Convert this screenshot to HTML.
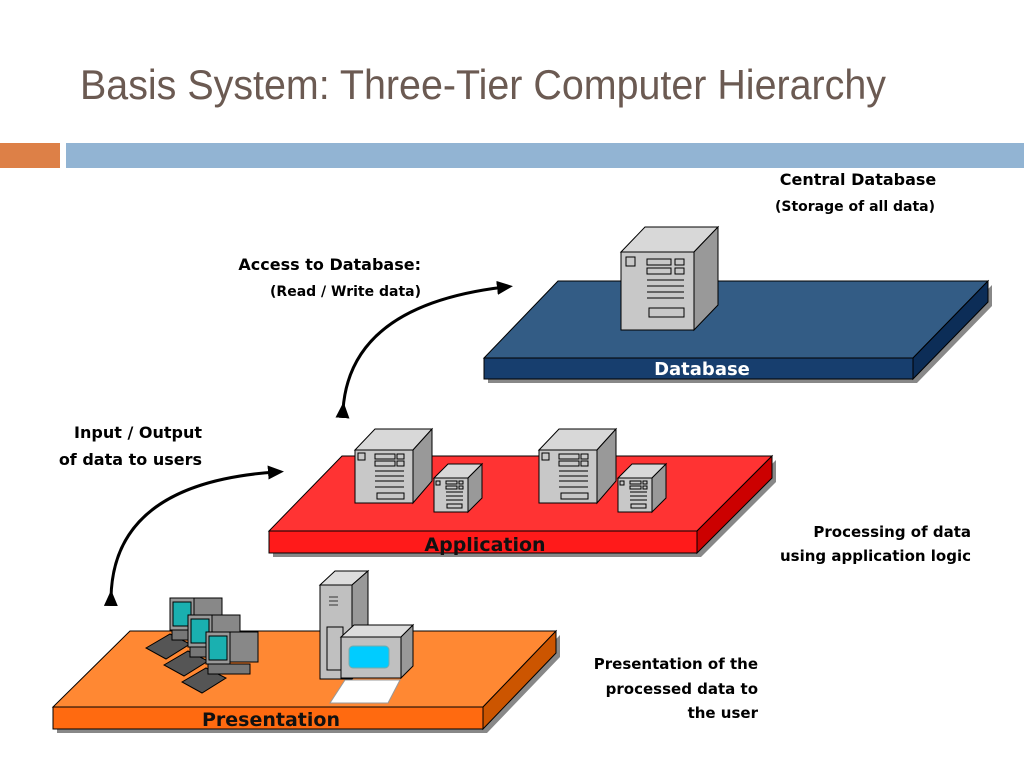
<!DOCTYPE html>
<html><head><meta charset="utf-8"><style>
html,body{margin:0;padding:0;background:#fff;}
svg{display:block;}
text{font-family:"DejaVu Sans","Liberation Sans",sans-serif;}
</style></head><body>
<svg width="1024" height="768" viewBox="0 0 1024 768" xmlns="http://www.w3.org/2000/svg">
<text x="80" y="99" font-size="42" fill="#6b5a52" style="font-family:'Liberation Sans',sans-serif" textLength="806" lengthAdjust="spacingAndGlyphs">Basis System: Three-Tier Computer Hierarchy</text>
<rect x="0" y="143" width="60" height="25" fill="#dd8047"/>
<rect x="66" y="143" width="958" height="25" fill="#92b4d3"/>

<defs>
<marker id="ah" markerWidth="16" markerHeight="14" refX="8" refY="7" orient="auto" markerUnits="userSpaceOnUse"><path d="M0,0 L16,7 L0,14 z" fill="#000"/></marker>
</defs>

<g stroke="#000" stroke-width="1">
<polygon points="488,362 917,362 992,285 992,306 917,383 488,383" fill="#888" stroke="none"/>
<polygon points="558,281 988,281 913,358 484,358" fill="#335c85"/>
<polygon points="484,358 913,358 913,379 484,379" fill="#173e6e"/>
<polygon points="913,358 988,281 988,302 913,379" fill="#0c2d57"/>
</g>
<text x="702" y="375" font-size="18" font-weight="bold" fill="#fff" text-anchor="middle">Database</text>

<g stroke="#000" stroke-width="1">
<polygon points="621,252 645,227 718,227 694,252" fill="#d8d8d8"/>
<polygon points="694,252 718,227 718,305 694,330" fill="#999"/>
<rect x="621" y="252" width="73" height="78" fill="#c8c8c8"/>
<rect x="626" y="257" width="9" height="9" fill="#c8c8c8"/>
<rect x="647" y="259" width="24" height="6" fill="#c8c8c8"/><rect x="675" y="259" width="9" height="6" fill="#c8c8c8"/>
<rect x="647" y="268" width="24" height="6" fill="#c8c8c8"/><rect x="675" y="268" width="9" height="6" fill="#c8c8c8"/>
<path d="M647 280H684M647 286H684M647 292H684M647 298H684"/>
<rect x="649" y="308" width="35" height="9" fill="#c8c8c8"/>
</g>

<g stroke="#000" stroke-width="1">
<polygon points="273,535 701,535 776,460 776,482 701,557 273,557" fill="#888" stroke="none"/>
<polygon points="342,456 772,456 697,531 269,531" fill="#ff3333"/>
<polygon points="269,531 697,531 697,553 269,553" fill="#ff1a1a"/>
<polygon points="697,531 772,456 772,478 697,553" fill="#cc0000"/>
</g>
<text x="485" y="551" font-size="19" font-weight="bold" fill="#111" text-anchor="middle">Application</text>

<g id="pair">
<g stroke="#000" stroke-width="1">
<polygon points="355,450 375,429 432,429 413,450" fill="#d8d8d8"/>
<polygon points="413,450 432,429 432,481 413,503" fill="#999"/>
<rect x="355" y="450" width="58" height="53" fill="#c8c8c8"/>
<rect x="358" y="453" width="7" height="7" fill="#c8c8c8"/>
<rect x="375" y="454" width="20" height="5" fill="#c8c8c8"/><rect x="397" y="454" width="7" height="5" fill="#c8c8c8"/>
<rect x="375" y="461" width="20" height="5" fill="#c8c8c8"/><rect x="397" y="461" width="7" height="5" fill="#c8c8c8"/>
<path d="M375 471H404M375 476H404M375 481H404M375 487H404"/>
<rect x="377" y="493" width="27" height="6" fill="#c8c8c8"/>
<polygon points="434,478 448,464 482,464 468,478" fill="#d8d8d8"/>
<polygon points="468,478 482,464 482,498 468,512" fill="#999"/>
<rect x="434" y="478" width="34" height="34" fill="#c8c8c8"/>
<rect x="436" y="481" width="4" height="4" fill="#c8c8c8"/>
<rect x="446" y="481" width="11" height="3" fill="#c8c8c8"/><rect x="459" y="481" width="4" height="3" fill="#c8c8c8"/>
<rect x="446" y="486" width="11" height="3" fill="#c8c8c8"/><rect x="459" y="486" width="4" height="3" fill="#c8c8c8"/>
<path d="M446 492H463M446 496H463M446 500H463"/>
<rect x="447" y="504" width="15" height="4" fill="#c8c8c8"/>
</g>
</g>
<use href="#pair" transform="translate(184,0)"/>

<g stroke="#000" stroke-width="1">
<polygon points="57,711 487,711 560,635 560,657 487,733 57,733" fill="#888" stroke="none"/>
<polygon points="130,631 556,631 483,707 53,707" fill="#ff8833"/>
<polygon points="53,707 483,707 483,729 53,729" fill="#ff6a10"/>
<polygon points="483,707 556,631 556,653 483,729" fill="#cc5500"/>
</g>
<text x="271" y="726" font-size="19" font-weight="bold" fill="#111" text-anchor="middle">Presentation</text>

<g stroke="#000" stroke-width="1">
<polygon points="320,585 335,571 368,571 352,585" fill="#ddd"/>
<polygon points="352,585 368,571 368,665 352,679" fill="#999"/>
<rect x="320" y="585" width="32" height="94" fill="#c0c0c0"/>
<path d="M329 597H338M329 601H338M329 605H338" stroke="#333"/>
<rect x="327" y="627" width="16" height="43" fill="#c0c0c0"/>
<polygon points="341,637 354,625 413,625 401,637" fill="#ddd"/>
<polygon points="401,637 413,625 413,666 401,678" fill="#999"/>
<rect x="341" y="637" width="60" height="41" fill="#c0c0c0"/>
<rect x="349" y="646" width="40" height="22" rx="4" fill="#00ccff" stroke="#7aa"/>
<polygon points="330,703 388,703 400,680 345,680" fill="#fff" stroke="#999"/>
</g>

<g stroke="#000" stroke-width="1" id="ws">
<polygon points="146,648 170,634 190,644 166,659" fill="#555"/>
<polygon points="194,598 222,598 222,628 194,628" fill="#888"/>
<rect x="170" y="598" width="24" height="32" fill="#999"/>
<rect x="173" y="602" width="18" height="24" fill="#1ab0b0"/>
<rect x="172" y="630" width="42" height="10" fill="#777"/>
</g>
<use href="#ws" transform="translate(18,17)"/>
<use href="#ws" transform="translate(36,34)"/>

<path d="M343 410 Q350 305 505 287" fill="none" stroke="#000" stroke-width="3" marker-end="url(#ah)" marker-start="url(#ah)"/>
<path d="M111 598 Q113 483 276 472" fill="none" stroke="#000" stroke-width="3" marker-end="url(#ah)" marker-start="url(#ah)"/>

<g font-size="16" font-weight="bold" fill="#000">
<text x="858" y="185" text-anchor="middle">Central Database</text>
<text x="855" y="211" font-size="14" text-anchor="middle">(Storage of all data)</text>
<text x="421" y="270" text-anchor="end">Access to Database:</text>
<text x="421" y="296" font-size="14" text-anchor="end">(Read / Write data)</text>
<text x="202" y="438" text-anchor="end">Input / Output</text>
<text x="202" y="465" text-anchor="end">of data to users</text>
<text x="971" y="537" font-size="15" text-anchor="end">Processing of data</text>
<text x="971" y="561" font-size="15" text-anchor="end">using application logic</text>
<text x="758" y="669" font-size="15" text-anchor="end">Presentation of the</text>
<text x="758" y="694" font-size="15" text-anchor="end">processed data to</text>
<text x="758" y="718" font-size="15" text-anchor="end">the user</text>
</g>
</svg>
</body></html>
